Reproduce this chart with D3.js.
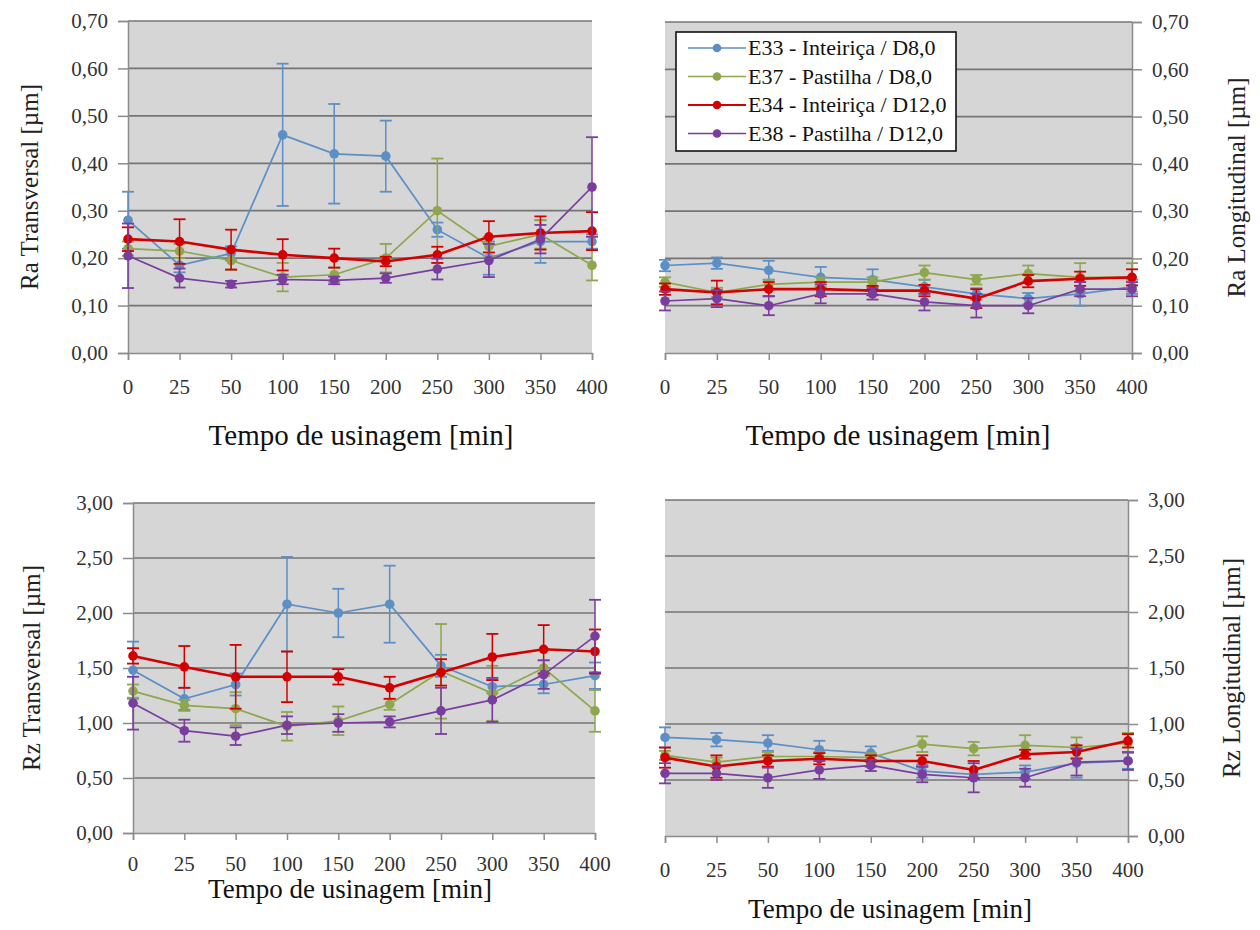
<!DOCTYPE html>
<html>
<head>
<meta charset="utf-8">
<script src="https://cdn.jsdelivr.net/npm/d3@7"></script>
<style>
  html, body { margin: 0; padding: 0; background: #ffffff; }
  svg { display: block; }
  svg text { font-family: "Liberation Serif", "Times New Roman", serif !important; }
</style>
</head>
<body>
<svg id="chart" width="1260" height="930" font-family="Liberation Serif"></svg>
<script>
// Machining time categories (min)
const categories = ["0", "25", "50", "100", "150", "200", "250", "300", "350", "400"];

const seriesNames = [
  "E33 - Inteiriça / D8,0",
  "E37 - Pastilha / D8,0",
  "E34 - Inteiriça / D12,0",
  "E38 - Pastilha / D12,0"
];
const seriesColors = ["#5b8fc6", "#8ea64c", "#d40000", "#7a3d9e"];

// Ra transversal [µm] — means and deviations per series
const raTransE33 = [0.280, 0.185, 0.210, 0.460, 0.420, 0.415, 0.260, 0.200, 0.235, 0.235];
const raTransE33Err = [0.060, 0.015, 0.015, 0.150, 0.105, 0.075, 0.015, 0.035, 0.045, 0.015];
const raTransE37 = [0.220, 0.215, 0.195, 0.160, 0.165, 0.200, 0.300, 0.225, 0.250, 0.185];
const raTransE37Err = [0.015, 0.015, 0.020, 0.030, 0.015, 0.030, 0.110, 0.020, 0.030, 0.032];
const raTransE34 = [0.240, 0.235, 0.218, 0.207, 0.200, 0.193, 0.207, 0.245, 0.253, 0.257];
const raTransE34Err = [0.025, 0.047, 0.042, 0.033, 0.020, 0.010, 0.017, 0.033, 0.035, 0.040];
const raTransE38 = [0.205, 0.158, 0.145, 0.155, 0.153, 0.158, 0.177, 0.195, 0.240, 0.350];
const raTransE38Err = [0.068, 0.020, 0.007, 0.010, 0.008, 0.010, 0.022, 0.035, 0.030, 0.105];

// Ra longitudinal [µm]
const raLongE33 = [0.185, 0.190, 0.175, 0.160, 0.155, 0.140, 0.125, 0.115, 0.125, 0.140];
const raLongE33Err = [0.012, 0.012, 0.020, 0.022, 0.022, 0.015, 0.012, 0.012, 0.025, 0.015];
const raLongE37 = [0.150, 0.128, 0.145, 0.150, 0.150, 0.170, 0.155, 0.168, 0.160, 0.160];
const raLongE37Err = [0.010, 0.010, 0.010, 0.010, 0.010, 0.015, 0.010, 0.017, 0.030, 0.030];
const raLongE34 = [0.135, 0.128, 0.135, 0.135, 0.132, 0.132, 0.115, 0.152, 0.157, 0.160];
const raLongE34Err = [0.012, 0.025, 0.015, 0.015, 0.010, 0.012, 0.020, 0.013, 0.015, 0.017];
const raLongE38 = [0.110, 0.115, 0.100, 0.125, 0.125, 0.108, 0.100, 0.100, 0.135, 0.135];
const raLongE38Err = [0.020, 0.018, 0.020, 0.020, 0.012, 0.018, 0.025, 0.016, 0.015, 0.015];

// Rz transversal [µm]
const rzTransE33 = [1.48, 1.22, 1.35, 2.08, 2.00, 2.08, 1.52, 1.33, 1.35, 1.43];
const rzTransE33Err = [0.26, 0.10, 0.10, 0.43, 0.22, 0.35, 0.10, 0.06, 0.08, 0.12];
const rzTransE37 = [1.29, 1.16, 1.13, 0.97, 1.02, 1.17, 1.47, 1.27, 1.50, 1.11];
const rzTransE37Err = [0.06, 0.05, 0.15, 0.13, 0.13, 0.05, 0.43, 0.25, 0.07, 0.19];
const rzTransE34 = [1.61, 1.51, 1.42, 1.42, 1.42, 1.32, 1.46, 1.60, 1.67, 1.65];
const rzTransE34Err = [0.07, 0.19, 0.29, 0.23, 0.07, 0.10, 0.12, 0.21, 0.22, 0.20];
const rzTransE38 = [1.18, 0.93, 0.88, 0.98, 1.00, 1.01, 1.11, 1.21, 1.44, 1.79];
const rzTransE38Err = [0.24, 0.10, 0.08, 0.08, 0.08, 0.05, 0.21, 0.20, 0.13, 0.33];

// Rz longitudinal [µm]
const rzLongE33 = [0.88, 0.86, 0.83, 0.77, 0.74, 0.58, 0.55, 0.57, 0.65, 0.67];
const rzLongE33Err = [0.09, 0.06, 0.07, 0.08, 0.06, 0.06, 0.05, 0.06, 0.13, 0.07];
const rzLongE37 = [0.72, 0.66, 0.71, 0.71, 0.70, 0.82, 0.78, 0.81, 0.79, 0.83];
const rzLongE37Err = [0.04, 0.04, 0.04, 0.04, 0.04, 0.07, 0.06, 0.09, 0.09, 0.09];
const rzLongE34 = [0.70, 0.62, 0.67, 0.69, 0.67, 0.67, 0.59, 0.73, 0.75, 0.85];
const rzLongE34Err = [0.09, 0.10, 0.05, 0.05, 0.05, 0.05, 0.08, 0.04, 0.06, 0.06];
const rzLongE38 = [0.56, 0.56, 0.52, 0.59, 0.63, 0.55, 0.52, 0.52, 0.66, 0.67];
const rzLongE38Err = [0.09, 0.06, 0.09, 0.08, 0.05, 0.07, 0.13, 0.08, 0.12, 0.08];

const raTicks = [0, 0.1, 0.2, 0.3, 0.4, 0.5, 0.6, 0.7];
const rzTicks = [0, 0.5, 1.0, 1.5, 2.0, 2.5, 3.0];

const xTitle = "Tempo de usinagem [min]";
const serif = "Liberation Serif";

// Panel layout: plot rectangles, axis side and label placement
const panels = [
  { yTitle: "Ra Transversal [µm]", side: "left", ticks: raTicks, max: 0.7,
    x0: 128, x1: 592, y0: 21, y1: 353, tickLabelY: 394, titleX: 361, titleY: 445, titleSize: 29, yTitleX: 38,
    means: [raTransE33, raTransE37, raTransE34, raTransE38],
    errs: [raTransE33Err, raTransE37Err, raTransE34Err, raTransE38Err], legend: false },
  { yTitle: "Ra Longitudinal [µm]", side: "right", ticks: raTicks, max: 0.7,
    x0: 665, x1: 1132, y0: 22, y1: 353, tickLabelY: 394, titleX: 898, titleY: 445, titleSize: 29, yTitleX: 1245,
    means: [raLongE33, raLongE37, raLongE34, raLongE38],
    errs: [raLongE33Err, raLongE37Err, raLongE34Err, raLongE38Err], legend: true },
  { yTitle: "Rz Transversal [µm]", side: "left", ticks: rzTicks, max: 3.0,
    x0: 133, x1: 595, y0: 503, y1: 833, tickLabelY: 871, titleX: 350, titleY: 898, titleSize: 27, yTitleX: 40,
    means: [rzTransE33, rzTransE37, rzTransE34, rzTransE38],
    errs: [rzTransE33Err, rzTransE37Err, rzTransE34Err, rzTransE38Err], legend: false },
  { yTitle: "Rz Longitudinal [µm]", side: "right", ticks: rzTicks, max: 3.0,
    x0: 665, x1: 1128, y0: 500, y1: 836, tickLabelY: 877, titleX: 890, titleY: 918, titleSize: 27, yTitleX: 1240,
    means: [rzLongE33, rzLongE37, rzLongE34, rzLongE38],
    errs: [rzLongE33Err, rzLongE37Err, rzLongE34Err, rzLongE38Err], legend: false }
];

const locale = d3.formatLocale({ decimal: ",", thousands: ".", grouping: [3], currency: ["", ""] });
const fmt = locale.format(".2f");

const svg = d3.select("#chart");

panels.forEach(p => {
  const g = svg.append("g");
  const x = d3.scalePoint().domain(categories).range([p.x0, p.x1]).padding(0);
  const y = d3.scaleLinear().domain([0, p.max]).range([p.y1, p.y0]);

  // plot background
  g.append("rect")
    .attr("x", p.x0).attr("y", p.y0)
    .attr("width", p.x1 - p.x0).attr("height", p.y1 - p.y0)
    .attr("fill", "#d6d6d6");

  // horizontal gridlines
  g.selectAll(".grid").data(p.ticks.filter(t => t > 0)).join("line")
    .attr("x1", p.x0).attr("x2", p.x1)
    .attr("y1", d => y(d)).attr("y2", d => y(d))
    .attr("stroke", "#747474").attr("stroke-width", 1.7);

  // value axis
  const yAxis = (p.side === "left" ? d3.axisLeft(y) : d3.axisRight(y))
    .tickValues(p.ticks).tickFormat(fmt).tickSize(10).tickPadding(10);
  const ya = g.append("g")
    .attr("transform", `translate(${p.side === "left" ? p.x0 : p.x1},0)`)
    .call(yAxis)
    .attr("font-family", serif).attr("font-size", 21);
  ya.select(".domain").attr("stroke", "#8c8c8c").attr("stroke-width", 1.5);
  ya.selectAll(".tick line").attr("stroke", "#8c8c8c").attr("stroke-width", 1.5);
  ya.selectAll(".tick text").style("font-family", serif).attr("fill", "#333");

  // category axis
  const xAxis = d3.axisBottom(x).tickSize(7).tickPadding(0).tickFormat(() => "");
  const xa = g.append("g").attr("transform", `translate(0,${p.y1})`).call(xAxis);
  xa.select(".domain").attr("stroke", "#8c8c8c").attr("stroke-width", 1.5);
  xa.selectAll(".tick line").attr("stroke", "#8c8c8c").attr("stroke-width", 1.5);
  g.selectAll(".xlab").data(categories).join("text")
    .attr("x", d => x(d)).attr("y", p.tickLabelY)
    .attr("text-anchor", "middle")
    .style("font-family", serif).attr("font-size", 21).attr("fill", "#333")
    .text(d => d);

  // axis titles
  g.append("text")
    .attr("x", p.titleX).attr("y", p.titleY)
    .attr("text-anchor", "middle")
    .style("font-family", serif).attr("font-size", p.titleSize).attr("fill", "#111")
    .text(xTitle);
  g.append("text")
    .attr("transform", `translate(${p.yTitleX},${(p.y0 + p.y1) / 2}) rotate(-90)`)
    .attr("text-anchor", "middle")
    .style("font-family", serif).attr("font-size", 25).attr("fill", "#222")
    .text(p.yTitle);

  // series: error bars, lines, markers
  p.means.forEach((vals, si) => {
    const color = seriesColors[si];
    const pts = categories.map((c, i) => ({ c, v: vals[i], e: p.errs[si][i] }));
    const sg = g.append("g");
    const eb = sg.selectAll(".eb").data(pts).join("g");
    eb.append("line")
      .attr("x1", d => x(d.c)).attr("x2", d => x(d.c))
      .attr("y1", d => y(d.v - d.e)).attr("y2", d => y(d.v + d.e))
      .attr("stroke", color).attr("stroke-width", 1.5);
    [-1, 1].forEach(s => {
      eb.append("line")
        .attr("x1", d => x(d.c) - 6).attr("x2", d => x(d.c) + 6)
        .attr("y1", d => y(d.v + s * d.e)).attr("y2", d => y(d.v + s * d.e))
        .attr("stroke", color).attr("stroke-width", 1.8);
    });
    sg.append("path").datum(pts)
      .attr("fill", "none").attr("stroke", color)
      .attr("stroke-width", si === 2 ? 2.6 : 1.7)
      .attr("d", d3.line().x(d => x(d.c)).y(d => y(d.v)));
    sg.selectAll(".mk").data(pts).join("circle")
      .attr("cx", d => x(d.c)).attr("cy", d => y(d.v))
      .attr("r", 4.8).attr("fill", color);
  });

  // legend
  if (p.legend) {
    const lg = g.append("g").attr("transform", "translate(676,32)");
    lg.append("rect").attr("width", 280).attr("height", 119)
      .attr("fill", "#ffffff").attr("stroke", "#111").attr("stroke-width", 1.6);
    seriesNames.forEach((name, i) => {
      const ly = 16 + i * 28.5;
      lg.append("line").attr("x1", 12).attr("x2", 70).attr("y1", ly).attr("y2", ly)
        .attr("stroke", seriesColors[i]).attr("stroke-width", i === 2 ? 2.2 : 1.6);
      lg.append("circle").attr("cx", 41).attr("cy", ly).attr("r", 4.3).attr("fill", seriesColors[i]);
      lg.append("text").attr("x", 72).attr("y", ly + 7)
        .style("font-family", serif).attr("font-size", 22).attr("fill", "#111").text(name);
    });
  }
});
</script>
</body>
</html>
